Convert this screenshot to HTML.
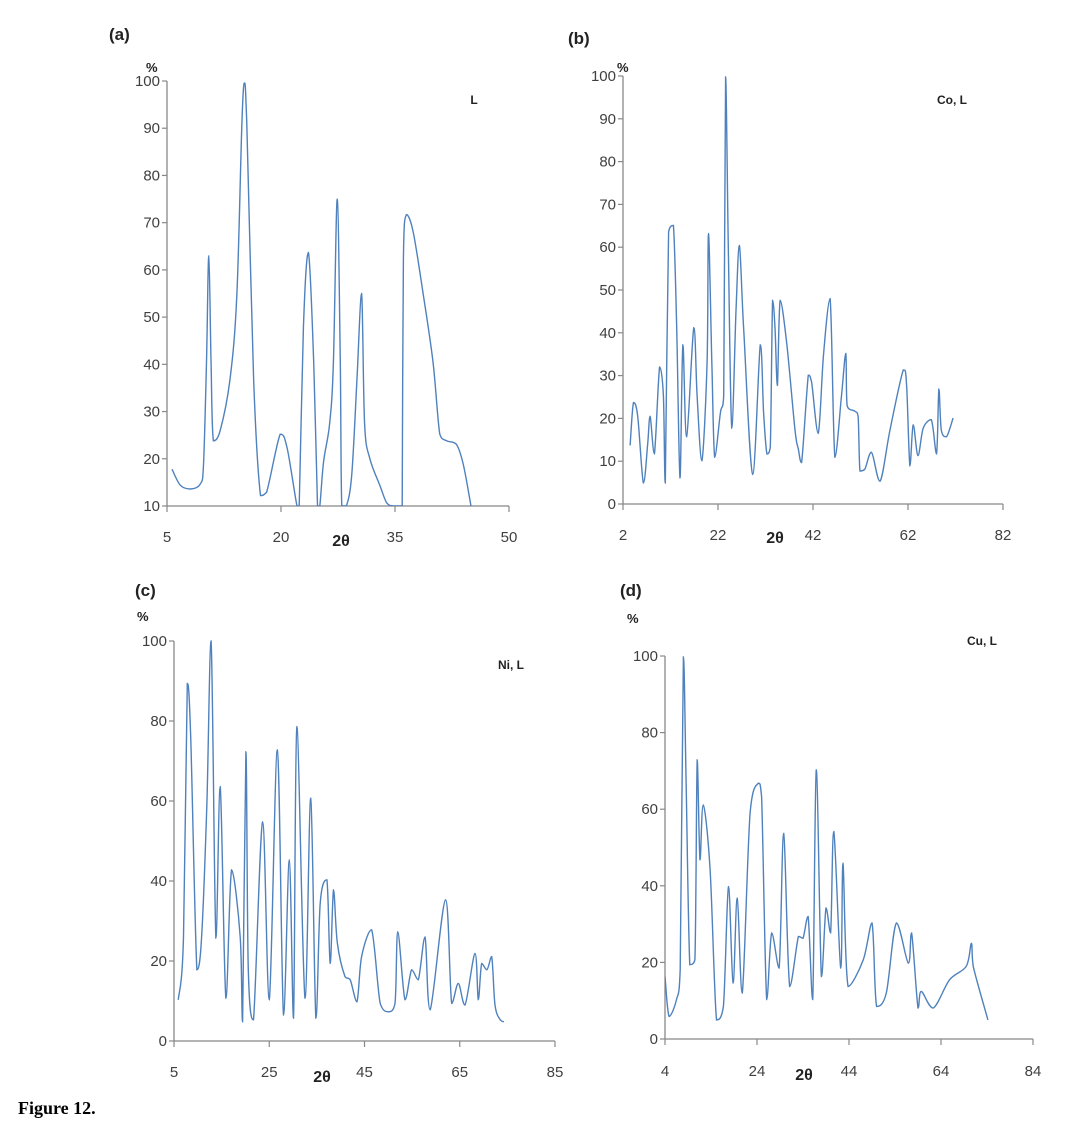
<!DOCTYPE html>
<html><head><meta charset="utf-8">
<style>
html,body{margin:0;padding:0;background:#fff;}
svg{display:block;}
.tick{font-family:"Liberation Sans",sans-serif;font-size:15px;fill:#404040;}
.bold{font-family:"Liberation Sans",sans-serif;font-weight:bold;fill:#222;}
</style></head>
<body>
<svg id="fig" width="1074" height="1128" viewBox="0 0 1074 1128">
<text x="18" y="1114" font-family="Liberation Serif,serif" font-weight="bold" font-size="18" fill="#000">Figure 12.</text>
</svg>
<script>
// ---- data arrays ----
const aX=[5.66,6.75,8.1,9.4,9.8,10.2,10.5,10.8,11.1,12.0,13.3,14.2,14.85,15.2,15.5,16.4,17.3,18.1,19.9,20.8,22.1,22.4,22.95,23.6,24.3,24.8,25.1,25.6,26.4,26.9,27.4,27.8,28.0,28.6,29.3,30,30.6,31.0,31.7,33,33.9,34.8,35.9,35.95,36.1,36.5,37.4,38.7,40.0,40.9,41.8,43.1,44.0,45];
const aY=[17.8,14.4,13.6,14.7,18.7,40.5,63,40,23.8,26,37,55,91,99.6,91,37,12.2,12.9,25.2,22.3,10,10,47.7,63.7,40.5,10,10,19.4,27.4,40.5,75,40.5,10,10,16.5,37,55,27.4,20,14.4,10.7,10,10,10,62.3,71.7,68,55,40.5,25.2,23.8,23,18.7,10];
const bX=[3.5,4.2,5.1,6.3,7.2,7.7,8.6,9.7,10.5,10.9,11.6,12.6,13.3,14.0,14.6,15.4,16.9,17.6,18.6,19.7,20.0,20.7,21.3,22.5,23.2,23.6,24.2,24.9,25.8,26.5,27.4,29.3,30.9,31.6,32.3,33.0,33.5,34.0,34.5,35.1,36.5,38.2,38.9,39.6,41.0,41.7,43.1,44.2,45.6,46.6,48.0,48.9,49.2,50.8,51.5,51.9,52.9,54.3,56.1,58.2,61.0,61.7,62.4,63.1,64.1,65.2,66.9,68.0,68.5,69.0,70.1,71.5];
const bY=[13.7,23.7,20.5,4.9,14.1,20.5,11.7,32,25.3,4.9,63.6,65.1,41.2,6.1,37.2,15.7,41.2,25.3,10.1,33.3,63.2,33.3,10.9,21.3,25.3,99.8,57.2,17.7,45.2,60.4,41.2,6.9,37.2,21.3,11.7,13.3,47.6,41.2,27.7,47.6,37.2,17.3,12.9,9.7,30.1,28.5,16.5,34.8,48.0,10.9,25.3,35.2,22.9,21.7,20.5,7.7,8.1,12.1,5.3,17.3,31.3,27.7,8.9,18.5,11.3,17.7,19.7,11.7,26.9,17.3,15.7,20.1];
const cX=[5.9,7.0,7.8,8.5,9.8,10.8,11.9,12.8,13.8,14.7,15.9,17.1,18.9,19.4,20.1,20.6,21.7,23.6,25.0,26.7,28.0,29.2,30.1,30.8,32.5,33.7,34.8,35.7,37.1,37.8,38.5,39.3,40.9,42.0,43.4,44.4,46.5,48.3,50.0,51.4,52.0,53.5,54.9,56.3,57.7,58.8,62.0,63.3,64.7,66.1,68.2,68.9,69.6,70.7,71.7,72.4,73.5,74.3];
const cY=[10.3,26,89.4,76,17.8,26,59.4,100,25.7,63.6,10.7,42.8,26,4.8,72.3,17.8,5.3,54.8,10.3,72.8,6.5,45.3,5.7,78.6,10.7,60.7,5.7,34.4,40.3,19.4,37.8,24.4,16.1,15.3,9.8,21.1,27.8,9.4,7.3,9.4,27.3,10.3,17.8,15.3,26,7.8,35.3,9.4,14.4,9,21.9,10.3,19.4,17.8,21.1,9,5.3,4.8];
const dX=[4,4.9,6.5,7.3,8.0,8.6,9.4,10.5,11.0,11.6,12.3,13.8,15.2,16.7,17.8,18.8,19.7,20.8,22.5,24.3,25.0,26.1,27.2,28.8,29.8,31.1,33.0,34.0,35.1,36.1,36.9,38.0,39.0,40.0,40.7,42.2,42.7,43.8,47.1,49.0,50.0,52.1,54.3,56.9,57.6,59.0,59.7,62.3,65.9,69.5,70.6,71.0,74.2];
const dY=[16.3,5.9,10.3,18.1,99.8,65.9,19.4,20.7,72.9,46.8,61.1,44.2,5,8.5,39.8,14.6,36.8,12,59,66.8,63.3,10.3,27.7,18.5,53.7,13.7,26.8,26.3,32,10.3,70.3,16.3,34.2,27.7,54.2,18.5,45.9,13.7,20.7,30.3,8.5,12,30.3,19.8,27.7,8.1,12.4,8.1,15.5,19,25,19,5];
const aXTicks=[5,20,35,50], aYTicks=[10,20,30,40,50,60,70,80,90,100];
const bXTicks=[2,22,42,62,82], bYTicks=[0,10,20,30,40,50,60,70,80,90,100];
const cXTicks=[5,25,45,65,85], cYTicks=[0,20,40,60,80,100];
const dXTicks=[4,24,44,64,84], dYTicks=[0,20,40,60,80,100];

const NS='http://www.w3.org/2000/svg';
const svg=document.getElementById('fig');
function mk(tag,attrs,parent){const e=document.createElementNS(NS,tag);for(const k in attrs)e.setAttribute(k,attrs[k]);(parent||svg).appendChild(e);return e;}

function panel(id,cfg,xs,ys,xt,yt){
  const g=mk('g',{});
  
  
  const sx=v=>cfg.x0+(v-cfg.xmin)/(cfg.xmax-cfg.xmin)*(cfg.x1-cfg.x0);
  const sy=v=>cfg.y0-(v-cfg.ymin)/(cfg.ymax-cfg.ymin)*(cfg.y0-cfg.y1);
  const cp=mk('clipPath',{id:'clip-'+id},g);
  mk('rect',{x:cfg.x0,y:cfg.y1-4,width:cfg.x1-cfg.x0,height:cfg.y0-cfg.y1+4},cp);
  const ya=mk('line',{x1:cfg.x0,y1:cfg.y1,x2:cfg.x0,y2:cfg.y0,stroke:'#888','stroke-width':1.3},g);
  
  
  const xa=mk('line',{x1:cfg.x0,y1:cfg.y0,x2:cfg.x1,y2:cfg.y0,stroke:'#888','stroke-width':1.3},g);
  
  
  yt.forEach(v=>{
    mk('line',{x1:cfg.x0-5,y1:sy(v),x2:cfg.x0,y2:sy(v),stroke:'#888','stroke-width':1.2},g);
    const t=mk('text',{x:cfg.x0-7,y:sy(v)+5,'text-anchor':'end',class:'tick'},g);
    
    
    t.textContent=v;
  });
  xt.forEach(v=>{
    mk('line',{x1:sx(v),y1:cfg.y0,x2:sx(v),y2:cfg.y0+6,stroke:'#888','stroke-width':1.2},g);
    const t=mk('text',{x:sx(v),y:cfg.xly,'text-anchor':'middle',class:'tick'},g);
    
    
    t.textContent=v;
  });
  const P=xs.map((x,i)=>[sx(x),sy(ys[i])]);
  const cl=(v,a,b)=>Math.max(Math.min(a,b),Math.min(Math.max(a,b),v));
  let d='M'+P[0][0].toFixed(1)+','+P[0][1].toFixed(1);
  for(let i=0;i<P.length-1;i++){
    const p0=P[Math.max(0,i-1)],p1=P[i],p2=P[i+1],p3=P[Math.min(P.length-1,i+2)];
    const k=1/6;
    const c1=[p1[0]+(p2[0]-p0[0])*k,cl(p1[1]+(p2[1]-p0[1])*k,p1[1],p2[1])];
    const c2=[p2[0]-(p3[0]-p1[0])*k,cl(p2[1]-(p3[1]-p1[1])*k,p1[1],p2[1])];
    c1[0]=cl(c1[0],p1[0],p2[0]);c2[0]=cl(c2[0],p1[0],p2[0]);
    d+=' C'+c1[0].toFixed(1)+','+c1[1].toFixed(1)+' '+c2[0].toFixed(1)+','+c2[1].toFixed(1)+' '+p2[0].toFixed(1)+','+p2[1].toFixed(1);
  }
  const path=mk('path',{d:d,fill:'none',stroke:'#4f81bd','stroke-width':1.4,'clip-path':'url(#clip-'+id+')'},g);
  
  
  const lab=mk('text',{x:cfg.lab[0],y:cfg.lab[1],class:'bold','font-size':17},g);
  
  
  lab.textContent='('+id+')';
  const pc=mk('text',{x:cfg.pct[0],y:cfg.pct[1],class:'bold','font-size':13},g);
  
  
  pc.textContent='%';
  const xt2=mk('text',{x:cfg.th[0],y:cfg.th[1],class:'bold','font-size':16,'text-anchor':'middle'},g);
  
  
  xt2.textContent='2θ';
  const sn=mk('text',{x:cfg.sn[0],y:cfg.sn[1],class:'bold','font-size':12,'text-anchor':'middle'},g);
  
  
  sn.textContent=cfg.name;
}
panel('a',{x0:167,x1:509,y0:506,y1:81,xmin:5,xmax:50,ymin:10,ymax:100,xly:542,lab:[109,40],pct:[146,72],th:[341,546],sn:[474,104],name:'L'},aX,aY,aXTicks,aYTicks);
panel('b',{x0:623,x1:1003,y0:504,y1:76,xmin:2,xmax:82,ymin:0,ymax:100,xly:540,lab:[568,44],pct:[617,72],th:[775,543],sn:[952,104],name:'Co, L'},bX,bY,bXTicks,bYTicks);
panel('c',{x0:174,x1:555,y0:1041,y1:641,xmin:5,xmax:85,ymin:0,ymax:100,xly:1077,lab:[135,596],pct:[137,621],th:[322,1082],sn:[511,669],name:'Ni, L'},cX,cY,cXTicks,cYTicks);
panel('d',{x0:665,x1:1033,y0:1039,y1:656,xmin:4,xmax:84,ymin:0,ymax:100,xly:1076,lab:[620,596],pct:[627,623],th:[804,1080],sn:[982,645],name:'Cu, L'},dX,dY,dXTicks,dYTicks);
</script>
</body></html>
